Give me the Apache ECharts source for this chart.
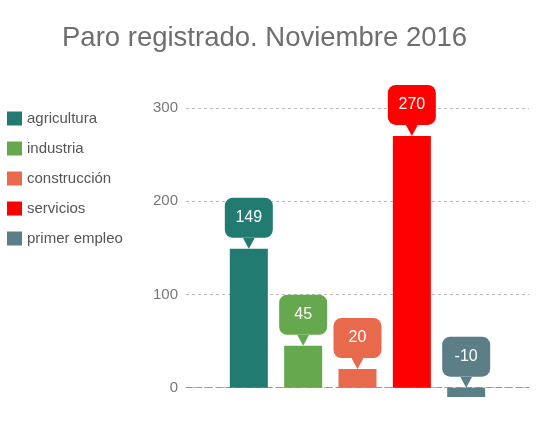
<!DOCTYPE html>
<html>
<head>
<meta charset="utf-8">
<script src="https://cdn.jsdelivr.net/npm/echarts@6/dist/echarts.min.js"></script>
<style>html,body{margin:0;padding:0;background:#fff}#c{width:545px;height:436px}</style>
</head>
<body>
<div id="c"></div>
<script>
const titleText = 'Paro registrado. Noviembre 2016';
const sectors = ['agricultura', 'industria', 'construcción', 'servicios', 'primer empleo'];
const values = [149, 45, 20, 270, -10];
const colors = ['#217b70', '#66a84e', '#e8694b', '#fe0000', '#5b7e87'];
const yMin = -10;
const yMax = 300;

function arrowImage(color) {
  const svg = '<svg xmlns="http://www.w3.org/2000/svg" width="12" height="11"><path d="M0 0 L12 0 L6 11 Z" fill="' + color + '"/></svg>';
  return 'data:image/svg+xml;charset=utf-8,' + encodeURIComponent(svg);
}

const chart = echarts.init(document.getElementById('c'), null, {renderer: 'canvas'});
const series = sectors.map((name, i) => ({
  name: name,
  type: 'bar',
  data: [values[i]],
  barWidth: 38,
  barGap: '43%',
  itemStyle: {color: colors[i]},
  label: {
    show: true,
    position: 'top',
    distance: 0,
    formatter: '{box|{c}}\n{arr| }',
    rich: {
      box: {
        backgroundColor: colors[i],
        color: '#fff',
        fontFamily: 'Liberation Sans, Arial, sans-serif',
        fontSize: 16,
        width: 48,
        height: 40,
        lineHeight: 40,
        borderRadius: 8,
        align: 'center'
      },
      arr: {
        backgroundColor: {image: arrowImage(colors[i])},
        color: 'transparent',
        width: 12,
        height: 11,
        lineHeight: 11,
        fontSize: 1,
        align: 'center'
      }
    }
  }
}));

chart.setOption({
  animation: false,
  title: {
    text: titleText,
    left: 57,
    top: 19,
    textStyle: {
      fontFamily: 'Liberation Sans, Arial, sans-serif',
      fontSize: 27.5,
      fontWeight: 'normal',
      color: '#6e6e6e'
    }
  },
  legend: {
    orient: 'vertical',
    left: 2,
    top: 106,
    itemWidth: 15,
    itemHeight: 14,
    itemGap: 15,
    icon: 'rect',
    textStyle: {
      fontFamily: 'Liberation Sans, Arial, sans-serif',
      fontSize: 15,
      color: '#555'
    },
    data: sectors
  },
  grid: {left: 186, right: 16, top: 108, bottom: 39},
  xAxis: {
    type: 'category',
    data: [''],
    axisTick: {show: false},
    axisLabel: {show: false},
    axisLine: {show: true, onZero: true, lineStyle: {color: '#999', type: [6, 4], width: 1}}
  },
  yAxis: {
    type: 'value',
    min: yMin,
    max: yMax,
    splitNumber: 3,
    axisLine: {show: false},
    axisTick: {show: false},
    axisLabel: {
      showMinLabel: false,
      margin: 8,
      fontFamily: 'Liberation Sans, Arial, sans-serif',
      fontSize: 15,
      color: '#777'
    },
    splitLine: {showMinLine: false, lineStyle: {color: '#bbb', type: [3, 3], width: 1}}
  },
  series: series
});
</script>
</body>
</html>
